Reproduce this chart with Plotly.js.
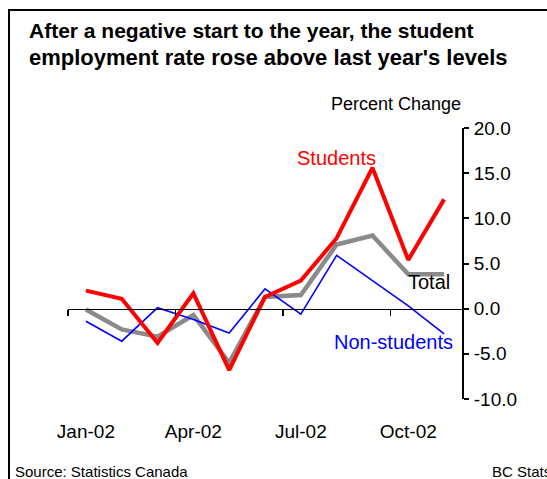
<!DOCTYPE html>
<html>
<head>
<meta charset="utf-8">
<script src="https://cdn.plot.ly/plotly-3.0.1.min.js"></script>
<style>html,body{margin:0;padding:0;background:#fff;}#chart{width:547px;height:479px;}</style>
</head>
<body>
<div id="chart"></div>
<script>
const months = ['Jan-02','Feb-02','Mar-02','Apr-02','May-02','Jun-02','Jul-02','Aug-02','Sep-02','Oct-02','Nov-02'];
const tickLabels = ['Jan-02','Apr-02','Jul-02','Oct-02'];
const students = [2.0, 1.1, -3.8, 1.7, -6.8, 1.3, 3.1, 7.8, 15.6, 5.4, 12.1];
const total = [-0.1, -2.3, -3.1, -0.7, -6.0, 1.3, 1.5, 7.1, 8.1, 3.8, 3.8];
const nonStudents = [-1.4, -3.6, 0.1, -1.2, -2.7, 2.2, -0.6, 5.9, 3.1, 0.3, -2.8];
const yTicks = [-10, -5, 0, 5, 10, 15, 20];
const yTickText = ['-10.0', '-5.0', '0.0', '5.0', '10.0', '15.0', '20.0'];

const W = 547, H = 479, L = 68, R = 462, T = 128, B = 399;
const px = v => (v - L) / (R - L);
const py = v => (B - v) / (B - T);
const FONT = 'Liberation Sans, Arial, sans-serif';

const traces = [
  {x: months, y: total, type: 'scatter', mode: 'lines', name: 'Total',
   line: {color: '#8a8a8a', width: 4.5}, hoverinfo: 'skip'},
  {x: months, y: nonStudents, type: 'scatter', mode: 'lines', name: 'Non-students',
   line: {color: '#0000ff', width: 1.6}, hoverinfo: 'skip'},
  {x: months, y: students, type: 'scatter', mode: 'lines', name: 'Students',
   line: {color: '#ff0000', width: 4}, hoverinfo: 'skip'},
  {x: [-0.5, 10.5], y: [0, 0], xaxis: 'x2', type: 'scatter', mode: 'lines',
   line: {color: 'rgba(0,0,0,0)', width: 0}, hoverinfo: 'skip', showlegend: false}
];

const layout = {
  width: W, height: H,
  margin: {l: L, r: W - R, t: T, b: H - B, pad: 0},
  paper_bgcolor: '#fff', plot_bgcolor: '#fff',
  showlegend: false,
  font: {family: FONT, color: '#000'},
  xaxis: {
    type: 'category', range: [-0.5, 10.5], fixedrange: true,
    showline: false, showgrid: false, zeroline: false,
    tickmode: 'array', tickvals: tickLabels, ticktext: tickLabels,
    ticks: 'outside', ticklen: 15, tickcolor: 'rgba(0,0,0,0)',
    tickfont: {family: FONT, size: 19, color: '#000'}
  },
  xaxis2: {
    type: 'linear', overlaying: 'x', anchor: 'free', position: 1/3,
    range: [-0.5, 10.5], fixedrange: true,
    showline: true, linecolor: '#000', linewidth: 1.5,
    showgrid: false, zeroline: false,
    tickmode: 'array', tickvals: [-0.5, 2.5, 5.5, 8.5], showticklabels: false,
    ticks: 'outside', ticklen: 6, tickwidth: 1.5, tickcolor: '#000'
  },
  yaxis: {
    side: 'right', range: [-10, 20], fixedrange: true,
    showline: true, linecolor: '#000', linewidth: 2,
    showgrid: false, zeroline: false,
    tickmode: 'array', tickvals: yTicks, ticktext: yTickText,
    ticks: 'outside', ticklen: 5, tickwidth: 2, tickcolor: '#000',
    ticklabelstandoff: 1,
    tickfont: {family: FONT, size: 19, color: '#000'}
  },
  shapes: [
    {type: 'rect', xref: 'paper', yref: 'paper',
     x0: px(9), x1: px(620), y0: py(10), y1: py(560),
     line: {color: '#000', width: 2}, fillcolor: 'rgba(0,0,0,0)', layer: 'above'}
  ],
  annotations: [
    {text: '<b>After a negative start to the year, the student</b>', xref: 'paper', yref: 'paper',
     x: px(27), y: py(30), xanchor: 'left', yanchor: 'middle', showarrow: false,
     font: {family: FONT, size: 21, color: '#000'}},
    {text: "<b>employment rate rose above last year's levels</b>", xref: 'paper', yref: 'paper',
     x: px(27), y: py(58), xanchor: 'left', yanchor: 'middle', showarrow: false,
     font: {family: FONT, size: 22, color: '#000'}},
    {text: 'Percent Change', xref: 'paper', yref: 'paper',
     x: px(463), y: py(104), xanchor: 'right', yanchor: 'middle', showarrow: false,
     font: {family: FONT, size: 18, color: '#000'}},
    {text: 'Students', xref: 'paper', yref: 'paper',
     x: px(336), y: py(158), xanchor: 'center', yanchor: 'middle', showarrow: false,
     font: {family: FONT, size: 20, color: '#ff0000'}},
    {text: 'Total', xref: 'paper', yref: 'paper',
     x: px(406), y: py(282), xanchor: 'left', yanchor: 'middle', showarrow: false,
     font: {family: FONT, size: 20, color: '#000'}},
    {text: 'Non-students', xref: 'paper', yref: 'paper',
     x: px(332), y: py(342), xanchor: 'left', yanchor: 'middle', showarrow: false,
     font: {family: FONT, size: 20, color: '#0000ff'}},
    {text: 'Source: Statistics Canada', xref: 'paper', yref: 'paper',
     x: px(13), y: py(471), xanchor: 'left', yanchor: 'middle', showarrow: false,
     font: {family: FONT, size: 15, color: '#000'}},
    {text: 'BC Stats', xref: 'paper', yref: 'paper',
     x: px(490), y: py(471), xanchor: 'left', yanchor: 'middle', showarrow: false,
     font: {family: FONT, size: 15, color: '#000'}}
  ]
};

Plotly.newPlot('chart', traces, layout, {staticPlot: true, displayModeBar: false});
</script>
</body>
</html>
